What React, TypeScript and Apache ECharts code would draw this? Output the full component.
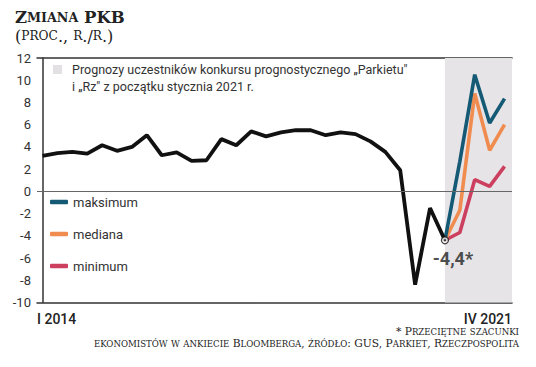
import React, { useEffect, useRef } from "react";
import * as echarts from "echarts";

const quarters = [
  "I 2014", "II 2014", "III 2014", "IV 2014",
  "I 2015", "II 2015", "III 2015", "IV 2015",
  "I 2016", "II 2016", "III 2016", "IV 2016",
  "I 2017", "II 2017", "III 2017", "IV 2017",
  "I 2018", "II 2018", "III 2018", "IV 2018",
  "I 2019", "II 2019", "III 2019", "IV 2019",
  "I 2020", "II 2020", "III 2020", "IV 2020",
  "I 2021", "II 2021", "III 2021", "IV 2021",
];

const actual = [
  3.2, 3.45, 3.55, 3.4, 4.15, 3.65, 4.0, 5.05, 3.25, 3.5, 2.75, 2.8, 4.7, 4.15,
  5.4, 4.95, 5.3, 5.5, 5.5, 5.05, 5.3, 5.15, 4.5, 3.55, 1.9, -8.4, -1.5, -4.4,
];

// forecasts start at IV 2020 (index 27)
const forecastStart = 27;
const maksimum = [-4.4, 2.7, 10.5, 6.15, 8.35];
const mediana = [-4.4, -1.7, 8.8, 3.7, 6.0];
const minimum = [-4.4, -3.7, 1.05, 0.45, 2.25];

const yMin = -10;
const yMax = 12;
const yStep = 2;
const xMin = -0.37;
const xMax = 31.5;

const legendNames = ["maksimum", "mediana", "minimum"];
const colors = ["#155a75", "#f08c4f", "#cc3f5f"];

const titleLine1 = "Zmiana PKB";
const titleLine2 = "(proc., r./r.)";
const note1 = "* Przeciętne szacunki";
const note2 = "ekonomistów w ankiecie Bloomberga, źródło: GUS, Parkiet, Rzeczpospolita";
const shadeNote = "Prognozy uczestników konkursu prognostycznego „Parkietu\"\ni „Rz\" z początku stycznia 2021 r.";

function smallCaps(str: string): string {
  let out = "";
  let cur = "";
  let curStyle = "";
  for (const ch of str) {
    const isLower = ch !== ch.toUpperCase();
    const st = isLower ? "s" : "b";
    const c = isLower ? ch.toUpperCase() : ch;
    if (st !== curStyle && cur) {
      out += `{${curStyle}|${cur}}`;
      cur = "";
    }
    curStyle = st;
    cur += c;
  }
  if (cur) out += `{${curStyle}|${cur}}`;
  return out;
}

const SANS = "Roboto";
const SERIF = "DejaVu Serif";

export default function App() {
  const ref = useRef<HTMLDivElement>(null);
  useEffect(() => {
    const chart = echarts.init(ref.current!, null, { renderer: "svg" });
    const fc = (arr: number[]) => arr.map((v, i) => [forecastStart + i, v]);
    const lastIdx = actual.length - 1;
    const option: any = {
      animation: false,
      backgroundColor: "#fff",
      grid: { left: 37, top: 58, width: 475, height: 244.5 },
      xAxis: [
        {
          type: "value",
          min: xMin,
          max: xMax,
          axisLine: { onZero: false, lineStyle: { color: "#333", width: 1.5 } },
          axisTick: { show: false },
          splitLine: { show: false },
          axisLabel: {
            customValues: [xMin, xMax],
            formatter: (v: number) =>
              quarters[Math.max(0, Math.min(quarters.length - 1, Math.round(v)))],
            alignMinLabel: "left",
            alignMaxLabel: "right",
            fontFamily: SANS,
            fontSize: 14,
            fontWeight: 500,
            color: "#222",
            margin: 9,
          },
        },
        {
          type: "value",
          position: "top",
          min: xMin,
          max: xMax,
          axisLine: { onZero: false, lineStyle: { color: "#333", width: 1.5 } },
          axisTick: { show: false },
          splitLine: { show: false },
          axisLabel: { show: false },
        },
      ],
      yAxis: {
        type: "value",
        min: yMin,
        max: yMax,
        interval: yStep,
        axisLine: { show: true, lineStyle: { color: "#333", width: 1.5 } },
        axisTick: { show: false },
        splitLine: { show: false },
        axisLabel: { fontFamily: SANS, fontSize: 13, color: "#333", margin: 6 },
      },
      legend: {
        data: legendNames,
        orient: "vertical",
        left: 45,
        top: 189,
        itemWidth: 18,
        itemHeight: 4.5,
        icon: "roundRect",
        itemGap: 16,
        textStyle: { fontFamily: SANS, fontSize: 13, color: "#333", lineHeight: 16 },
      },
      series: [
        {
          type: "line",
          name: "shade",
          data: [],
          z: 1,
          markArea: {
            silent: true,
            itemStyle: { color: "#e6e4e7" },
            data: [[{ xAxis: forecastStart }, { xAxis: xMax }]],
          },
        },
        ...[minimum, mediana, maksimum].map((arr, k) => {
          const idx = 2 - k;
          return {
            type: "line",
            name: legendNames[idx],
            data: fc(arr),
            symbol: "none",
            color: colors[idx],
            lineStyle: { color: colors[idx], width: 3.6 },
            z: 3,
          };
        }),
        {
          type: "line",
          name: "PKB",
          data: actual.map((v, i) => [i, v]),
          symbol: "none",
          color: "#111",
          lineStyle: { color: "#111", width: 3.8 },
          z: 4,
          markLine: {
            silent: true,
            symbol: "none",
            label: { show: false },
            lineStyle: { color: "#666", width: 1, type: "solid" },
            data: [{ yAxis: 0 }],
          },
        },
        {
          type: "scatter",
          name: "last",
          data: [[lastIdx, actual[lastIdx]]],
          symbol: "circle",
          symbolSize: 7,
          itemStyle: { color: "#fff", borderColor: "#111", borderWidth: 1.3 },
          z: 5,
          label: {
            show: true,
            position: "bottom",
            distance: 5,
            offset: [8, 0],
            formatter: (p: any) => String(p.value[1]).replace(".", ",") + "*",
            fontFamily: SANS,
            fontSize: 18,
            fontWeight: "bold",
            color: "#222",
          },
        },
        {
          type: "scatter",
          name: "lastdot",
          data: [[lastIdx, actual[lastIdx]]],
          symbol: "circle",
          symbolSize: 2.5,
          itemStyle: { color: "#111" },
          z: 6,
        },
      ],
      graphic: [
        {
          type: "text",
          left: 15,
          top: 9,
          style: {
            text: smallCaps(titleLine1),
            rich: {
              b: { fontFamily: SERIF, fontSize: 16.5, fontWeight: "bold", fill: "#222" },
              s: { fontFamily: SERIF, fontSize: 12.7, fontWeight: "bold", fill: "#222" },
            },
          },
        },
        {
          type: "text",
          left: 15,
          top: 28,
          style: {
            text: smallCaps(titleLine2),
            rich: {
              b: { fontFamily: SERIF, fontSize: 16, fill: "#222" },
              s: { fontFamily: SERIF, fontSize: 12.2, fill: "#222" },
            },
          },
        },
        {
          type: "rect",
          shape: { x: 53, y: 65, width: 9, height: 9 },
          style: { fill: "#e2e0e3" },
        },
        {
          type: "text",
          x: 72,
          y: 61,
          style: {
            text: shadeNote,
            fontFamily: SANS,
            fontSize: 12.5,
            lineHeight: 17,
            fill: "#333",
          },
        },
        {
          type: "text",
          right: 17,
          top: 326,
          style: {
            text: smallCaps(note1) + "\n" + smallCaps(note2),
            align: "right",
            rich: {
              b: { fontFamily: SERIF, fontSize: 10.7, fill: "#222", lineHeight: 12, align: "right" },
              s: { fontFamily: SERIF, fontSize: 8.6, fill: "#222", lineHeight: 12, align: "right" },
            },
          },
        },
      ],
    };
    chart.setOption(option);
    return () => chart.dispose();
  }, []);
  return (
    <div
      ref={ref}
      style={{ position: "fixed", left: 0, top: 0, width: 536, height: 367, background: "#fff" }}
    />
  );
}
